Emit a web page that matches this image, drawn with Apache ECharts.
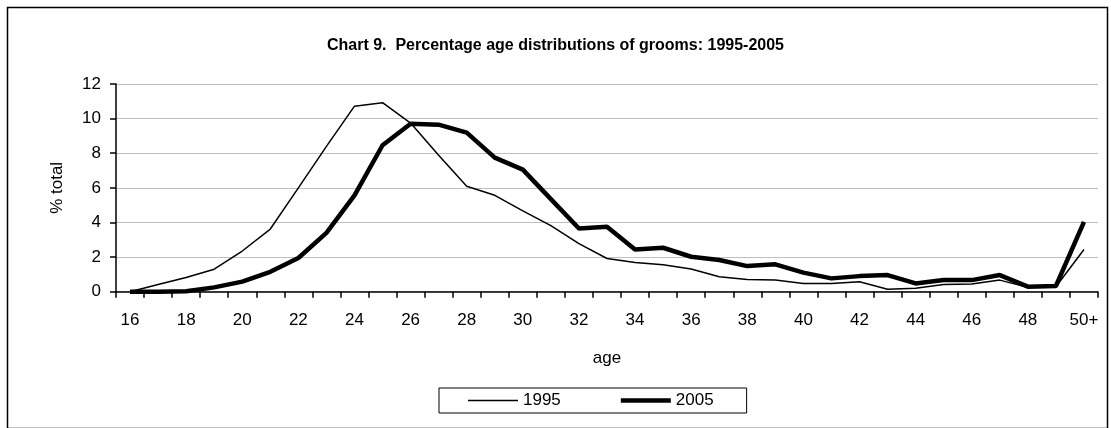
<!DOCTYPE html>
<html>
<head>
<meta charset="utf-8">
<script src="https://cdn.jsdelivr.net/npm/echarts@6/dist/echarts.min.js"></script>
<style>
html,body{margin:0;padding:0;background:#fff;}
#chart{width:1111px;height:428px;}
</style>
</head>
<body>
<div id="chart"></div>
<script>
const categories = ['16','17','18','19','20','21','22','23','24','25','26','27','28','29','30','31','32','33','34','35','36','37','38','39','40','41','42','43','44','45','46','47','48','49','50+'];
const values1995 = [0.0,0.42,0.82,1.3,2.35,3.62,6.0,8.4,10.72,10.92,9.74,7.88,6.09,5.57,4.67,3.82,2.78,1.92,1.69,1.56,1.31,0.86,0.71,0.67,0.48,0.48,0.58,0.14,0.2,0.42,0.44,0.67,0.25,0.29,2.44];
const values2005 = [0.0,0.0,0.03,0.25,0.58,1.15,1.95,3.4,5.57,8.46,9.7,9.65,9.19,7.75,7.05,5.35,3.65,3.75,2.44,2.54,2.02,1.83,1.48,1.58,1.1,0.77,0.9,0.96,0.48,0.67,0.67,0.96,0.29,0.33,4.03];
const yTicks = [0,2,4,6,8,10,12];
const seriesNames = ['1995','2005'];

const font = 'Liberation Sans, Arial, Helvetica, sans-serif';
const chart = echarts.init(document.getElementById('chart'), null, {renderer:'canvas'});
chart.setOption({
  animation:false,
  backgroundColor:'#fff',
  title:{
    text:'Chart 9.  Percentage age distributions of grooms: 1995-2005',
    left:'center', top:33,
    textStyle:{fontFamily:font, fontSize:16, fontWeight:'bold', color:'#000'}
  },
  graphic:[{
    type:'rect', left:5, top:5, silent:true,
    shape:{width:1100, height:421},
    style:{fill:'none', stroke:'#000', lineWidth:1.5}
  }],
  legend:{
    data:[
      {name:seriesNames[0], icon:'path://M0,0H50V1.6H0Z'},
      {name:seriesNames[1], icon:'path://M0,0H50V4.6H0Z'}
    ],
    symbolKeepAspect:true,
    left:439, top:388,
    itemGap:60, itemWidth:50, itemHeight:12,
    padding:[4,33,4,29],
    borderColor:'#000', borderWidth:1,
    itemStyle:{color:'#000', borderWidth:0},
    textStyle:{fontFamily:font, fontSize:17, color:'#000'}
  },
  grid:{left:116, right:13, top:84, bottom:136.3, containLabel:false},
  xAxis:{
    type:'category', data:categories, boundaryGap:true,
    name:'age', nameLocation:'middle', nameGap:58,
    nameTextStyle:{fontFamily:font, fontSize:17, color:'#000'},
    axisLine:{lineStyle:{color:'#000', width:1.5}},
    axisTick:{show:true, interval:0, length:6, lineStyle:{color:'#000', width:1.5}},
    axisLabel:{interval:1, fontFamily:font, fontSize:17, color:'#000', margin:20},
    splitLine:{show:false}
  },
  yAxis:{
    type:'value', min:0, max:12, interval:2,
    name:'% total', nameLocation:'middle', nameGap:50, nameRotate:90,
    nameTextStyle:{fontFamily:font, fontSize:17, color:'#000'},
    axisLine:{show:true, lineStyle:{color:'#000', width:1.5}},
    axisTick:{show:true, length:6, lineStyle:{color:'#000', width:1.5}},
    axisLabel:{fontFamily:font, fontSize:17, color:'#000', margin:15,
      formatter:function(v){return yTicks.indexOf(v)>=0?String(v):'';}},
    splitLine:{show:true, lineStyle:{color:'#c0c0c0', width:1}}
  },
  series:[
    {name:seriesNames[0], type:'line', data:values1995, symbol:'none',
     lineStyle:{color:'#000', width:1.5}, itemStyle:{color:'#000'}, z:3},
    {name:seriesNames[1], type:'line', data:values2005, symbol:'none',
     lineStyle:{color:'#000', width:4.5}, itemStyle:{color:'#000'}, z:2}
  ]
});
</script>
</body>
</html>
